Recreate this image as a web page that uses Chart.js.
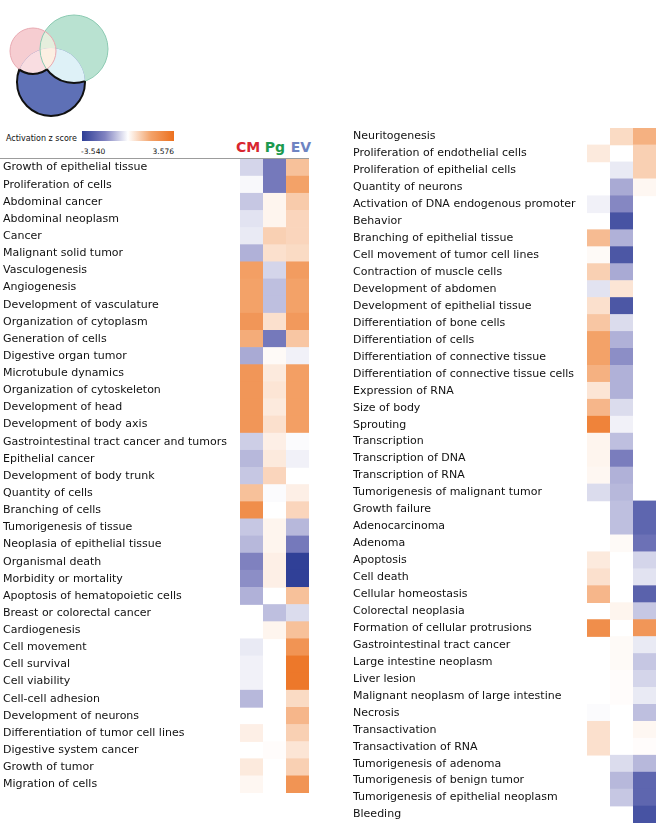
<!DOCTYPE html>
<html>
<head>
<meta charset="utf-8">
<title>Activation z score heatmap</title>
<script src="https://cdn.jsdelivr.net/npm/chart.js@4.4.1/dist/chart.umd.min.js"></script>
<style>
  html, body { margin: 0; padding: 0; background: #fff; }
  body { width: 668px; height: 839px; position: relative; overflow: hidden; font-family: 'DejaVu Sans', sans-serif; color: #111; }
  canvas { position: absolute; }
  #venn { left: 0; top: 0; }
  #leftChart { left: 0; top: 159px; }
  #rightChart { left: 349px; top: 128px; }
  .legend-title { position: absolute; left: 6px; top: 134px; font-size: 8px; line-height: 9px; white-space: nowrap; }
  .legend-bar { position: absolute; left: 82px; top: 131px; width: 92px; height: 10px; }
  .legend-tick { position: absolute; top: 147px; font-size: 7.5px; line-height: 9px; }
  .col-head { position: absolute; top: 139px; font-size: 14px; line-height: 16px; font-weight: bold; transform: translateX(-50%); }
  .header-line { position: absolute; left: 0; top: 158px; width: 309px; border-top: 1.5px solid #9c9c9c; }
</style>
</head>
<body>
<canvas id="venn" width="130" height="130"></canvas>

<div class="legend-title">Activation z score</div>
<div class="legend-bar" id="legendBar"></div>
<div class="legend-tick" id="tickMin" style="left: 81px;"></div>
<div class="legend-tick" id="tickMax" style="right: 494px;"></div>
<div id="heads"></div>
<div class="header-line"></div>

<canvas id="leftChart" width="309" height="634"></canvas>
<canvas id="rightChart" width="307" height="695"></canvas>

<script>
// z score range of the colour key
const zMin = -3.540;
const zMax = 3.576;

const columns = ['CM', 'Pg', 'EV'];
const columnColors = ['#d8262f', '#1d9a4f', '#6e84c2'];

// venn sets (one circle per column)
const vennX = [33, 74, 51];
const vennY = [51, 49, 82];
const vennR = [23, 34, 34];

const leftTerms = [
  'Growth of epithelial tissue', 'Proliferation of cells', 'Abdominal cancer', 'Abdominal neoplasm',
  'Cancer', 'Malignant solid tumor', 'Vasculogenesis', 'Angiogenesis', 'Development of vasculature',
  'Organization of cytoplasm', 'Generation of cells', 'Digestive organ tumor', 'Microtubule dynamics',
  'Organization of cytoskeleton', 'Development of head', 'Development of body axis',
  'Gastrointestinal tract cancer and tumors', 'Epithelial cancer', 'Development of body trunk',
  'Quantity of cells', 'Branching of cells', 'Tumorigenesis of tissue', 'Neoplasia of epithelial tissue',
  'Organismal death', 'Morbidity or mortality', 'Apoptosis of hematopoietic cells',
  'Breast or colorectal cancer', 'Cardiogenesis', 'Cell movement', 'Cell survival', 'Cell viability',
  'Cell-cell adhesion', 'Development of neurons', 'Differentiation of tumor cell lines',
  'Digestive system cancer', 'Growth of tumor', 'Migration of cells',
];
const leftCM = [-0.6, -0.1, -0.8, -0.4, -0.3, -1.1, 1.9, 1.8, 1.8, 2.2, 1.6, -1.2, 2.2, 2.2, 2.2, 2.2,
  -0.7, -1.0, -0.8, 1.2, 2.5, -0.8, -1.0, -1.8, -1.6, -1.1, null, null, -0.3, -0.2, -0.2, -1.0, null,
  0.3, null, 0.4, 0.15];
const leftPg = [-2.0, -2.0, 0.2, 0.2, 0.9, 0.6, -0.6, -0.9, -0.9, 0.6, -2.0, 0.1, 0.4, 0.5, 0.4, 0.6,
  0.3, 0.4, 0.8, -0.05, null, 0.2, 0.2, 0.3, 0.3, null, -0.9, 0.2, null, null, null, null, null,
  null, 0.05, null, null];
const leftEV = [1.2, 1.8, 1.0, 0.8, 0.8, 0.7, 2.0, 1.8, 1.8, 2.1, 1.1, -0.2, 1.9, 1.9, 1.9, 1.9,
  -0.05, -0.2, null, 0.3, 0.8, -1.0, -2.0, -3.5, -3.5, 1.2, -0.5, 1.2, 2.3, 3.3, 3.3, 0.7, 1.4,
  0.9, 0.5, 0.9, 2.3];

const rightTerms = [
  'Neuritogenesis', 'Proliferation of endothelial cells', 'Proliferation of epithelial cells',
  'Quantity of neurons', 'Activation of DNA endogenous promoter', 'Behavior',
  'Branching of epithelial tissue', 'Cell movement of tumor cell lines', 'Contraction of muscle cells',
  'Development of abdomen', 'Development of epithelial tissue', 'Differentiation of bone cells',
  'Differentiation of cells', 'Differentiation of connective tissue',
  'Differentiation of connective tissue cells', 'Expression of RNA', 'Size of body', 'Sprouting',
  'Transcription', 'Transcription of DNA', 'Transcription of RNA', 'Tumorigenesis of malignant tumor',
  'Growth failure', 'Adenocarcinoma', 'Adenoma', 'Apoptosis', 'Cell death', 'Cellular homeostasis',
  'Colorectal neoplasia', 'Formation of cellular protrusions', 'Gastrointestinal tract cancer',
  'Large intestine neoplasm', 'Liver lesion', 'Malignant neoplasm of large intestine', 'Necrosis',
  'Transactivation', 'Transactivation of RNA', 'Tumorigenesis of adenoma',
  'Tumorigenesis of benign tumor', 'Tumorigenesis of epithelial neoplasm', 'Bleeding',
];
const rightCM = [null, 0.4, null, null, -0.2, null, 1.3, 0.1, 0.9, -0.4, 0.6, 1.1, 1.8, 1.8, 1.5,
  0.5, 1.4, 2.9, 0.2, 0.2, 0.15, -0.5, null, null, null, 0.4, 0.6, 1.4, null, 2.5, null, null,
  null, null, -0.05, 0.6, 0.6, null, null, null, null];
const rightPg = [0.7, null, -0.3, -1.2, -1.7, -3.0, -1.1, -2.9, -1.2, 0.5, -2.9, -0.5, -1.1, -1.6,
  -1.1, -1.1, -0.5, -0.2, -0.9, -1.9, -1.1, -1.0, -0.9, -0.9, 0.1, null, null, null, 0.2, null,
  0.1, 0.1, 0.05, 0.05, null, null, null, -0.5, -1.0, -0.8, null];
const rightEV = [1.5, 0.9, 0.9, 0.15, null, null, null, null, null, null, null, null, null, null,
  null, null, null, null, null, null, null, null, -2.5, -2.5, -2.2, -0.6, -0.4, -2.6, -0.8, 2.2,
  -0.3, -0.8, -0.6, -0.3, -0.9, 0.15, 0.05, -1.0, -2.5, -2.5, -3.0];

// colour ramps: white -> mid -> end
const blueStops = [[255, 255, 255], [128, 130, 192], [46, 62, 150]];
const orangeStops = [[255, 255, 255], [243, 162, 105], [236, 112, 30]];

function mix(a, b, t) {
  return a.map((v, i) => Math.round(v + (b[i] - v) * t));
}

function zColor(v) {
  if (v === null) return 'rgba(0,0,0,0)';
  const stops = v < 0 ? blueStops : orangeStops;
  const t = Math.min(Math.abs(v) / (v < 0 ? -zMin : zMax), 1);
  const c = t < 0.5 ? mix(stops[0], stops[1], t * 2) : mix(stops[1], stops[2], (t - 0.5) * 2);
  return `rgb(${c[0]},${c[1]},${c[2]})`;
}

// colour key
const rgb = (c) => `rgb(${c.join(',')})`;
document.getElementById('legendBar').style.background =
  `linear-gradient(to right, ${rgb(blueStops[2])}, ${rgb(blueStops[1])} 25%, #fff 50%, ${rgb(orangeStops[1])} 75%, ${rgb(orangeStops[2])})`;
document.getElementById('tickMin').textContent = zMin.toFixed(3);
document.getElementById('tickMax').textContent = zMax.toFixed(3);

// column headers above the left panel
const headX = [248, 275, 301];
const heads = document.getElementById('heads');
columns.forEach((name, i) => {
  const d = document.createElement('div');
  d.className = 'col-head';
  d.style.left = headX[i] + 'px';
  d.style.color = columnColors[i];
  d.textContent = name;
  heads.appendChild(d);
});

function heatmap(canvas, terms, cols, padLeft, labelWidth) {
  const datasets = cols.map((vals, c) => ({
    label: columns[c],
    data: vals.map((v) => (v === null ? null : [c, c + 1])),
    backgroundColor: vals.map(zColor),
    borderWidth: 0,
    barPercentage: 1.04,
    categoryPercentage: 1,
    grouped: false,
  }));

  return new Chart(canvas, {
    type: 'bar',
    data: { labels: terms, datasets },
    options: {
      indexAxis: 'y',
      responsive: false,
      animation: false,
      events: [],
      layout: { padding: { left: padLeft } },
      plugins: { legend: { display: false }, tooltip: { enabled: false } },
      scales: {
        x: { type: 'linear', min: 0, max: 3, display: false },
        y: {
          grid: { display: false, drawTicks: false },
          border: { display: false },
          ticks: {
            autoSkip: false,
            crossAlign: 'far',
            padding: 0,
            color: '#111',
            font: { family: 'DejaVu Sans', size: 11 },
          },
          afterFit: (s) => {
            s.width = labelWidth;
            // rows fill the canvas top to bottom
            s.paddingTop = 0;
            s.paddingBottom = 0;
          },
        },
      },
    },
  });
}

heatmap(document.getElementById('leftChart'), leftTerms, [leftCM, leftPg, leftEV], 3, 237);
heatmap(document.getElementById('rightChart'), rightTerms, [rightCM, rightPg, rightEV], 4, 234);

// venn: bubbles give the circle geometry, the plugin paints the regions
const vennPlugin = {
  id: 'vennRegions',
  afterDatasetsDraw(chart) {
    const ctx = chart.ctx;
    const w = chart.width;
    const h = chart.height;
    const [cm, pg, ev] = chart.data.datasets.map((ds, i) => {
      const p = chart.getDatasetMeta(i).data[0];
      return { x: p.x, y: p.y, r: p.options.radius };
    });
    const circle = (k) => { ctx.beginPath(); ctx.arc(k.x, k.y, k.r, 0, Math.PI * 2); };
    const fill = (k, col) => { circle(k); ctx.fillStyle = col; ctx.fill(); };
    const clipIn = (k) => { circle(k); ctx.clip(); };
    const clipOut = (k) => {
      ctx.beginPath();
      ctx.rect(0, 0, w, h);
      ctx.arc(k.x, k.y, k.r, 0, Math.PI * 2);
      ctx.clip('evenodd');
    };
    const stroke = (k, col, lw) => { circle(k); ctx.strokeStyle = col; ctx.lineWidth = lw; ctx.stroke(); };

    ctx.save();
    fill(pg, '#b9e2d1');
    fill(cm, '#f6cdd1');
    ctx.save(); clipIn(cm); fill(pg, '#e5eedd'); ctx.restore();

    fill(ev, '#5e70b6');
    ctx.save();
    clipIn(ev);
    fill(pg, '#def1f7');
    fill(cm, '#f9dde1');
    clipIn(cm);
    fill(pg, '#fcefe2');
    ctx.restore();

    stroke(pg, '#8ccab2', 1);
    stroke(cm, '#e8a9b1', 1);

    // dark outline round the EV-only region
    ctx.save(); clipIn(ev); clipOut(pg); stroke(cm, '#111', 2); ctx.restore();
    ctx.save(); clipIn(ev); clipOut(cm); stroke(pg, '#111', 2); ctx.restore();
    ctx.save(); clipOut(cm); clipOut(pg); stroke(ev, '#111', 2); ctx.restore();
    ctx.restore();
  },
};

new Chart(document.getElementById('venn'), {
  type: 'bubble',
  data: {
    datasets: columns.map((name, i) => ({
      label: name,
      data: [{ x: vennX[i], y: vennY[i], r: vennR[i] }],
      backgroundColor: 'rgba(0,0,0,0)',
      borderWidth: 0,
    })),
  },
  options: {
    responsive: false,
    animation: false,
    events: [],
    layout: { autoPadding: false, padding: 0 },
    plugins: { legend: { display: false }, tooltip: { enabled: false } },
    scales: {
      x: { type: 'linear', min: 0, max: 130, display: false },
      y: { type: 'linear', min: 0, max: 130, reverse: true, display: false },
    },
  },
  plugins: [vennPlugin],
});
</script>
</body>
</html>
